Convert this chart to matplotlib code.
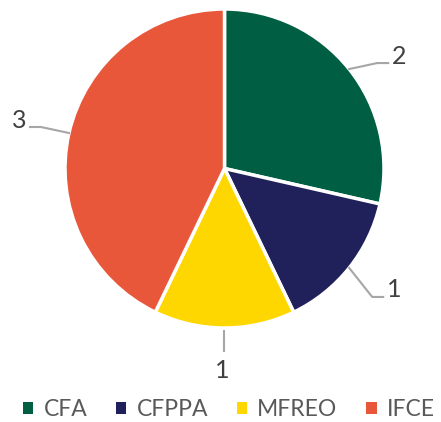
import matplotlib
matplotlib.use("Agg")
import matplotlib.pyplot as plt
import numpy as np
from matplotlib.patches import Patch

plt.rcParams['font.family'] = ['Lato', 'DejaVu Sans']

# Data #
categories = ["CFA", "CFPPA", "MFREO", "IFCE"]
values = [2, 1, 1, 3]
colors = ["#005F43", "#20205A", "#FFD700", "#E8573A"]

W, H = 441, 422
fig = plt.figure(figsize=(W / 100, H / 100), dpi=100)
ax = fig.add_axes([0, 0, 1, 1])

cx, cy, r = 224.5, H - 168.5, 159.5
wedges, _ = ax.pie(values, colors=colors, startangle=90, counterclock=False,
                   center=(cx, cy), radius=r, frame=True,
                   wedgeprops=dict(edgecolor='white', linewidth=2.5))
ax.set_xlim(0, W)
ax.set_ylim(0, H)
ax.set_aspect('equal')
ax.axis('off')

# Leader lines and value labels #
line_col = "#A6A6A6"
txt_col = "#404040"
for w, v in zip(wedges, values):
    mid = np.deg2rad((w.theta1 + w.theta2) / 2)
    ex, ey = cx + r * np.cos(mid), cy + r * np.sin(mid)
    c, s = np.cos(mid), np.sin(mid)
    if abs(c) < 0.1:
        # vertical leader below
        ax.plot([ex, ex], [ey - 3, ey - 23], color=line_col, lw=1.5)
        ax.text(ex - 2, ey - 42, str(v), ha='center', va='center', fontsize=18, color=txt_col)
        continue
    if s > 0:
        bx, by = ex + np.sign(c) * 28, ey + 6
    else:
        bx, by = ex + np.sign(c) * 23, ey - 29
    hx = bx + np.sign(c) * 11
    ax.plot([ex, bx, hx], [ey, by, by], color=line_col, lw=1.5)
    ax.text(hx + np.sign(c) * 4, by + 7, str(v), ha='left' if c > 0 else 'right',
            va='center', fontsize=18, color=txt_col)

handles = [Patch(facecolor=col, edgecolor='none') for col in colors]
fig.legend(handles, categories, loc='center', bbox_to_anchor=(0.519, 1 - 410 / H),
           ncol=4, frameon=False, fontsize=16.5, handlelength=0.45, handleheight=0.45,
           handletextpad=0.45, columnspacing=1.25, labelcolor="#595959")

fig.savefig("out.png", dpi=100)
